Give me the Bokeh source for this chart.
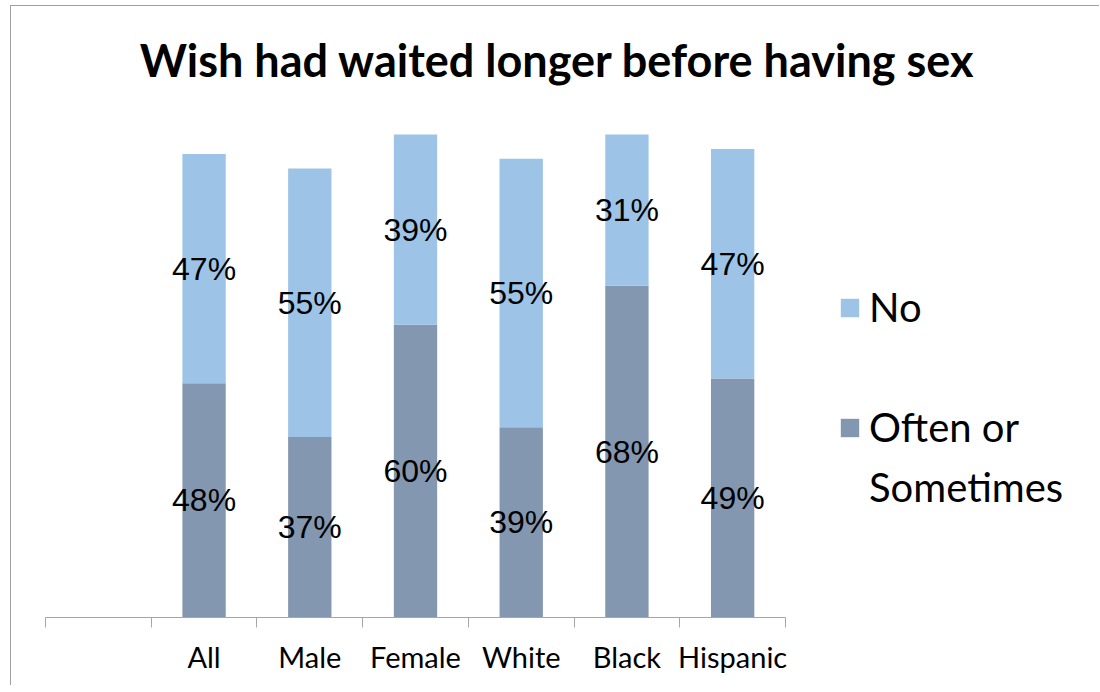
from bokeh.plotting import figure
from bokeh.models import (ColumnDataSource, Range1d, FixedTicker, Legend, LegendItem, Label)
from bokeh.core.properties import value
from bokeh.embed import file_html
from bokeh.resources import INLINE

title_text = "Wish had waited longer before having sex"
categories = ["All", "Male", "Female", "White", "Black", "Hispanic"]
often = [48, 37, 60, 39, 68, 49]
no = [47, 55, 39, 55, 31, 47]
legend_lines = ["No", " ", "Often or", "Sometimes"]

# one empty category slot precedes "All"
n_slots = len(categories) + 1
xs = [i + 1.5 for i in range(len(categories))]
boundaries = list(range(n_slots + 1))

source = ColumnDataSource(dict(x=xs, often=often, no=no, cat=categories))

W, H = 1089, 680
BL, BB = 34, 69     # left / bottom borders (px)
AXIS_PX = 740       # pixel length of the category axis
PX_100 = 488        # pixel height of 100 %
frame_w = W - BL
frame_h = H - BB
x_end = n_slots * frame_w / AXIS_PX   # frame extends right so the legend fits
y_end = 100 * frame_h / PX_100        # frame extends up so the title fits

p = figure(width=W, height=H, output_backend="svg", toolbar_location=None,
           x_range=Range1d(0, x_end), y_range=Range1d(0, y_end),
           min_border_left=BL, min_border_right=0, min_border_top=0,
           min_border_bottom=BB)
p.styles = {"margin-left": "10px", "margin-top": "5px",
            "border-left": "1px solid #A0A0A0", "border-top": "1px solid #A0A0A0"}

p.outline_line_color = None
p.xgrid.visible = False
p.ygrid.visible = False
p.yaxis.visible = False

title = Label(text=title_text, x=512, y=558, x_units="screen", y_units="screen",
              text_align="center", text_baseline="middle",
              text_font="Lato", text_font_size="45px", text_font_style="bold",
              text_color="#000000")
p.add_layout(title)

c_often = "#8497B0"
c_no = "#9DC3E6"
rs = p.vbar_stack(["often", "no"], x="x", width=0.41, source=source,
                  color=[c_often, c_no], line_color=None)

# value labels at the middle of each segment
lab_x = xs + xs
lab_y = [o / 2 for o in often] + [o + n / 2 for o, n in zip(often, no)]
lab_t = [f"{v}%" for v in often] + [f"{v}%" for v in no]
lsrc = ColumnDataSource(dict(x=lab_x, y=lab_y, t=lab_t))
p.text(x="x", y="y", text="t", source=lsrc, text_align="center",
       text_baseline="middle", text_font=value("Liberation Sans"),
       text_font_size="32px", text_color="#000000")

ax = p.xaxis[0]
ax.bounds = (0, n_slots)
ax.ticker = FixedTicker(ticks=xs, minor_ticks=boundaries)
ax.major_label_overrides = {x: c for x, c in zip(xs, categories)}
ax.major_tick_line_color = None
ax.major_tick_out = 10
ax.major_tick_in = 0
ax.minor_tick_line_color = "#A6A6A6"
ax.minor_tick_out = 10
ax.minor_tick_in = 0
ax.axis_line_color = "#A6A6A6"
ax.axis_line_width = 1
ax.major_label_text_font = "Lato"
ax.major_label_text_font_size = "29px"
ax.major_label_text_color = "#000000"
ax.major_label_standoff = 11

# invisible renderer for the spacer and the wrapped second legend line
dummy = p.vbar(x=[], top=[], width=0.1, fill_alpha=0, line_alpha=0)

items = [LegendItem(label=legend_lines[0], renderers=[rs[1]]),
         LegendItem(label=legend_lines[1], renderers=[dummy]),
         LegendItem(label=legend_lines[2], renderers=[rs[0]]),
         LegendItem(label=legend_lines[3], renderers=[dummy])]
lg = Legend(items=items, location=(793, 106), orientation="vertical",
            glyph_width=23, glyph_height=23, label_standoff=8,
            padding=0, margin=0, spacing=12,
            border_line_color=None, background_fill_alpha=0,
            label_text_font="Lato", label_text_font_size="40px",
            label_text_color="#000000", label_height=48)
p.add_layout(lg, "center")

open("out.html", "w").write(file_html(p, INLINE))
